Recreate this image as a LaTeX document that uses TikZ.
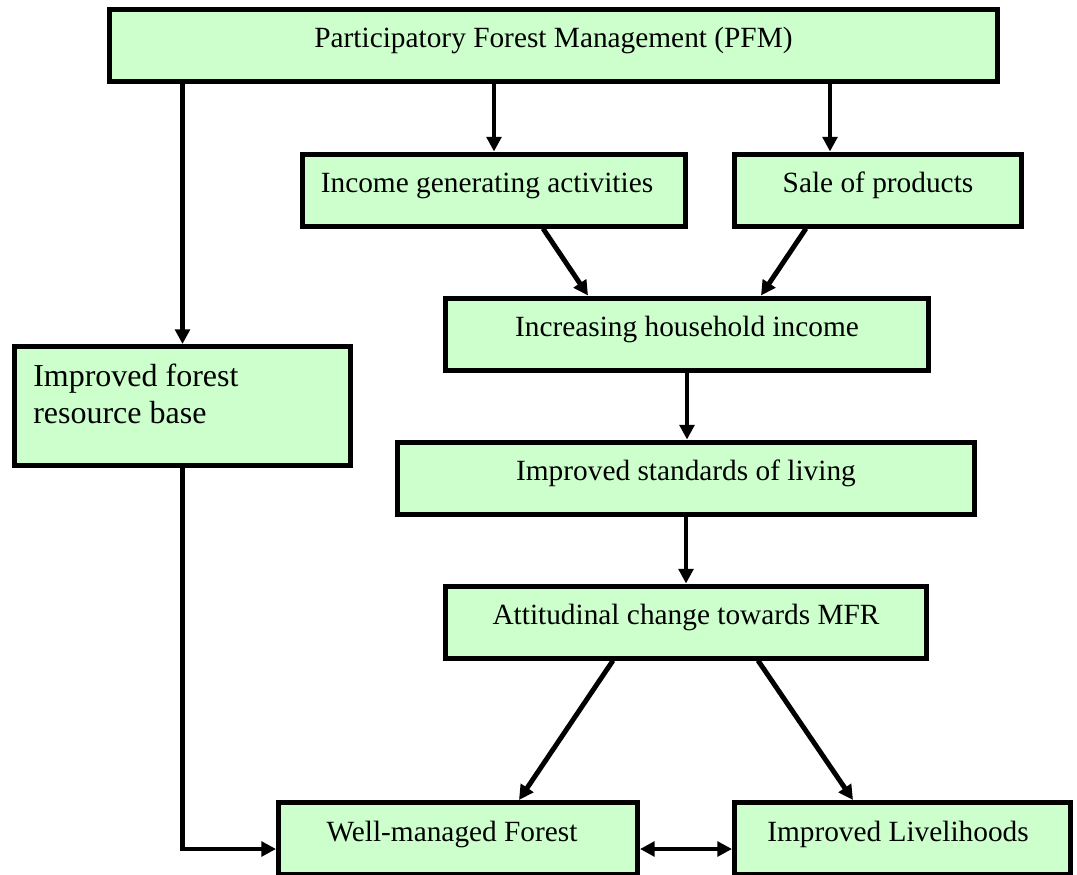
\documentclass[tikz,border=0pt]{standalone}
\usepackage{fontspec}
\setmainfont{Liberation Serif}
\usetikzlibrary{arrows.meta}
\definecolor{boxgreen}{HTML}{CCFFCC}
\begin{document}
\begin{tikzpicture}[x=0.75pt,y=-0.75pt,
  box/.style={draw=black, line width=3.75pt, fill=boxgreen, rectangle, inner sep=0pt,
    minimum height=54pt, text height=9pt, text depth=5.25pt,
    font=\fontsize{22}{26}\selectfont},
  arr/.style={line width=3.7pt, -{Triangle[length=11pt,width=11pt]}},
  darr/.style={line width=3.7pt, {Triangle[length=11pt,width=11pt]}-{Triangle[length=11pt,width=11pt]}}]
\useasboundingbox (0,0) rectangle (1077,874);

\node[box, minimum width=666pt] (pfm) at (553.5,45.5) {Participatory Forest Management (PFM)};
\node[box, minimum width=287.25pt] (inc) at (494,190) {Income generating activities\hspace*{10.5pt}};
\node[box, minimum width=215.25pt] (sale) at (878,190) {Sale of products};
\node[box, minimum width=362.25pt] (hh) at (687,334) {Increasing household income};
\node[box, minimum width=432.75pt] (std) at (686,478) {Improved standards of living};
\node[box, minimum width=360.75pt] (att) at (686,622) {Attitudinal change towards MFR};
\node[box, minimum width=252pt, minimum height=89.25pt] (ifr) at (182.5,406) {};
\node[anchor=north west, inner sep=0pt, align=left, font=\fontsize{24}{27.6}\selectfont] (ifrtext) at (33,364) {Improved forest\\resource base};
\node[box, minimum width=269.25pt] (wm) at (458,838.5) {Well-managed Forest\hspace*{9pt}};
\node[box, minimum width=252pt] (il) at (902.5,838.5) {Improved Livelihoods\hspace*{6.75pt}};

\coordinate (xs) at (830,0);
\coordinate (xa1) at (543,0);
\coordinate (xa2) at (588,0);
\coordinate (xb1) at (806,0);
\coordinate (xb2) at (761,0);
\coordinate (xc1) at (613,0);
\coordinate (xc2) at (519,0);
\coordinate (xd1) at (758,0);
\coordinate (xd2) at (853,0);
\coordinate (yl) at (0,849);

\draw[arr] (pfm.south -| inc.north) -- (inc.north);
\draw[arr] (pfm.south -| xs) -- (sale.north -| xs);
\draw[arr] (pfm.south -| ifr.north) -- (ifr.north);
\draw[arr] (inc.south -| xa1) -- (hh.north -| xa2);
\draw[arr] (sale.south -| xb1) -- (hh.north -| xb2);
\draw[arr] (hh.south) -- (std.north -| hh.south);
\draw[arr] (std.south) -- (att.north);
\draw[arr] (att.south -| xc1) -- (wm.north -| xc2);
\draw[arr] (att.south -| xd1) -- (il.north -| xd2);
\draw[arr] (ifr.south) -- (ifr.south |- yl) -- (wm.west |- yl);
\draw[darr] (wm.east |- yl) -- (il.west |- yl);
\end{tikzpicture}
\end{document}
